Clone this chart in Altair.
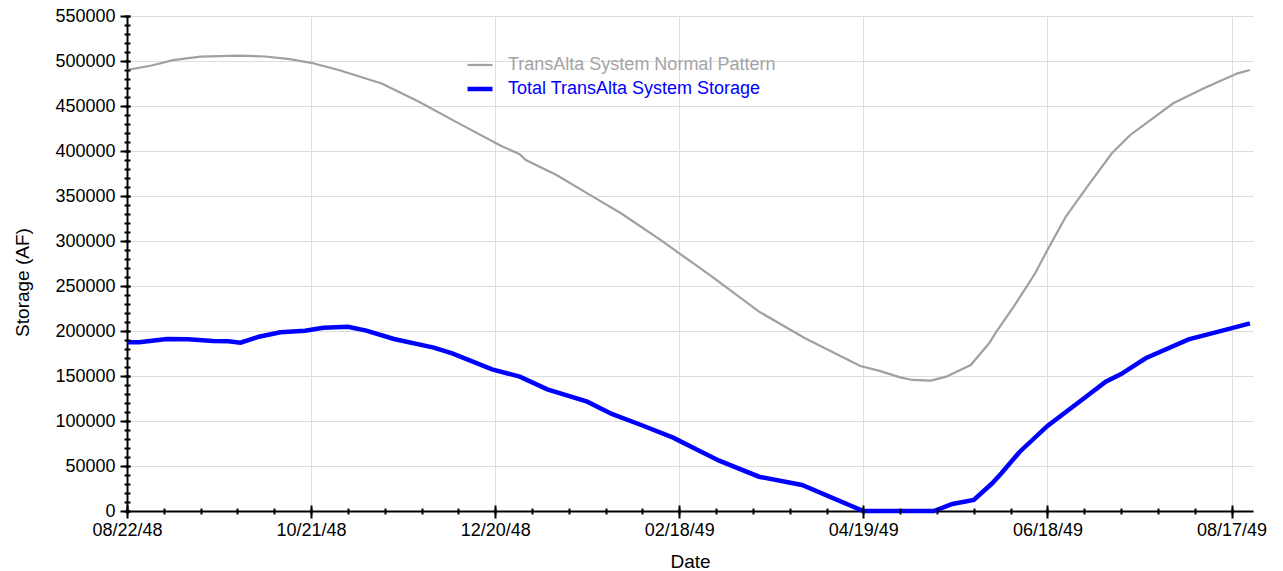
import altair as alt
import pandas as pd
from datetime import date, timedelta

NORMAL = "TransAlta System Normal Pattern"
TOTAL = "Total TransAlta System Storage"

normal_dates = ["1948-08-22", "1948-08-30", "1948-09-06", "1948-09-15", "1948-09-27", "1948-10-06",
                "1948-10-14", "1948-10-21", "1948-10-30", "1948-11-13", "1948-11-25", "1948-12-08",
                "1948-12-22", "1948-12-28", "1948-12-30", "1949-01-09", "1949-01-20", "1949-01-30",
                "1949-02-12", "1949-02-18", "1949-02-28", "1949-03-16", "1949-03-31", "1949-04-18",
                "1949-04-24", "1949-05-01", "1949-05-05", "1949-05-11", "1949-05-16", "1949-05-24",
                "1949-05-30", "1949-06-01", "1949-06-07", "1949-06-14", "1949-06-18", "1949-06-24",
                "1949-07-01", "1949-07-09", "1949-07-15", "1949-07-29", "1949-08-08", "1949-08-19",
                "1949-08-23"]
normal_vals = [490000, 495000, 501000, 504800, 506000, 505000, 502000, 498000, 490000, 475000,
               455000, 431000, 405500, 396500, 390000, 373300, 351000, 330800, 301000, 286300,
               262200, 221500, 191900, 161100, 156000, 148500, 145600, 144800, 149300, 162200,
               186300, 197400, 227000, 264100, 290000, 327000, 360300, 397400, 417800, 453000,
               469700, 486300, 490000]

storage_dates = ["1948-08-22", "1948-08-26", "1948-09-04", "1948-09-11", "1948-09-19", "1948-09-24",
                 "1948-09-28", "1948-10-04", "1948-10-11", "1948-10-19", "1948-10-25", "1948-11-02",
                 "1948-11-08", "1948-11-17", "1948-11-30", "1948-12-06", "1948-12-19", "1948-12-28",
                 "1949-01-06", "1949-01-19", "1949-01-27", "1949-02-06", "1949-02-16", "1949-02-24",
                 "1949-03-03", "1949-03-16", "1949-03-30", "1949-04-19", "1949-05-12", "1949-05-18",
                 "1949-05-25", "1949-05-31", "1949-06-03", "1949-06-09", "1949-06-18", "1949-07-01",
                 "1949-07-07", "1949-07-12", "1949-07-20", "1949-08-03", "1949-08-14", "1949-08-23"]
storage_vals = [187400, 187400, 191100, 190700, 188900, 188500, 187000, 193700, 198500, 200400,
                203700, 204800, 200400, 191100, 181500, 175200, 157400, 149300, 135200, 121500,
                107800, 95000, 81500, 67800, 55900, 38100, 28900, 0, 0, 7800,
                12200, 30800, 41900, 65900, 94500, 128000, 143700, 152200, 169700, 190700,
                200400, 208500]

major_tick_dates = ["1948-08-22", "1948-10-21", "1948-12-20", "1949-02-18",
                    "1949-04-19", "1949-06-18", "1949-08-17"]
major_y = [0, 50000, 100000, 150000, 200000, 250000, 300000, 350000, 400000, 450000, 500000, 550000]

rows = []
for d, v in zip(normal_dates, normal_vals):
    rows.append({"date": d + "T00:00:00", "value": v, "series": NORMAL})
for d, v in zip(storage_dates, storage_vals):
    rows.append({"date": d + "T00:00:00", "value": v, "series": TOTAL})
df = pd.DataFrame(rows)


def dt(s):
    y, m, d = map(int, s.split("-"))
    return alt.DateTime(year=y, month=m, date=d)


major_x = [dt(s) for s in major_tick_dates]
start = date(1948, 8, 22)
minor_x = []
for k in range(31):
    dd = start + timedelta(days=12 * k)
    minor_x.append(alt.DateTime(year=dd.year, month=dd.month, date=dd.day))
minor_y = list(range(0, 550001, 10000))

xscale = alt.Scale(domain=[dt("1948-08-22"), dt("1949-08-24")])
yscale = alt.Scale(domain=[0, 550000], nice=False)

legend = alt.Legend(
    title=None, orient="none", legendX=338, legendY=35, padding=0,
    symbolType="stroke", symbolSize=625, labelFontSize=18, labelOffset=13,
    rowPadding=0, labelFont="Liberation Sans", labelLimit=0,
    labelColor=alt.ExprRef("datum.label == '" + TOTAL + "' ? '#0000ff' : '#a4a4a4'"),
)

lines = alt.Chart(df).mark_line().encode(
    x=alt.X("date:T", scale=xscale, axis=alt.Axis(
        orient="bottom", values=major_x, grid=True, gridColor="#dedede", gridWidth=1,
        ticks=False, labels=False, domain=True, domainColor="black", domainWidth=2,
        title="Date", titleFontSize=19, titleFontWeight="normal", titleColor="black",
        titleY=50, titleBaseline="middle", zindex=0)),
    y=alt.Y("value:Q", scale=yscale, axis=alt.Axis(
        orient="left", values=major_y, grid=True, gridColor="#dedede", gridWidth=1,
        ticks=False, labels=False, domain=True, domainColor="black", domainWidth=2,
        title="Storage (AF)", titleFontSize=19, titleFontWeight="normal", titleColor="black",
        titleX=-105, titleY=266, titleAlign="center", titleBaseline="middle", zindex=0)),
    color=alt.Color("series:N", scale=alt.Scale(domain=[NORMAL, TOTAL], range=["#a0a0a0", "#0000ff"]),
                    legend=legend),
    strokeWidth=alt.StrokeWidth("series:N", scale=alt.Scale(domain=[NORMAL, TOTAL], range=[2.2, 4.5]),
                                legend=legend),
)

major = alt.Chart(df).mark_line(opacity=0).encode(
    x=alt.X("date:T", scale=xscale, axis=alt.Axis(
        orient="bottom", values=major_x, format="%m/%d/%y", grid=False, domain=False,
        tickSize=13, tickWidth=2, tickColor="black", offset=-6, labelFontSize=18,
        labelColor="black", labelPadding=3, labelFlush=False, labelOverlap=False,
        title=None, zindex=1)),
    y=alt.Y("value:Q", scale=yscale, axis=alt.Axis(
        orient="left", values=major_y, format="d", grid=False, domain=False,
        tickSize=10, tickWidth=2, tickColor="black", offset=-3, labelFontSize=18,
        labelColor="black", labelPadding=5, labelOverlap=False, title=None, zindex=1)),
)

minor = alt.Chart(df).mark_line(opacity=0).encode(
    x=alt.X("date:T", scale=xscale, axis=alt.Axis(
        orient="bottom", values=minor_x, labels=False, grid=False, domain=False,
        tickSize=6, tickWidth=2, tickColor="black", offset=-3, title=None, zindex=1)),
    y=alt.Y("value:Q", scale=yscale, axis=alt.Axis(
        orient="left", values=minor_y, labels=False, grid=False, domain=False,
        tickSize=6, tickWidth=2, tickColor="black", offset=-3, title=None, zindex=1)),
)

chart = alt.layer(lines, major, minor).resolve_axis(
    x="independent", y="independent"
).properties(
    width=1126, height=495,
    autosize=alt.AutoSizeParams(type="none"),
    padding={"left": 127, "top": 16, "right": 30, "bottom": 60},
    background="white",
).configure(font="Liberation Sans").configure_view(stroke=None)

chart.save("out.html", embed_options={"renderer": "svg", "actions": False})
